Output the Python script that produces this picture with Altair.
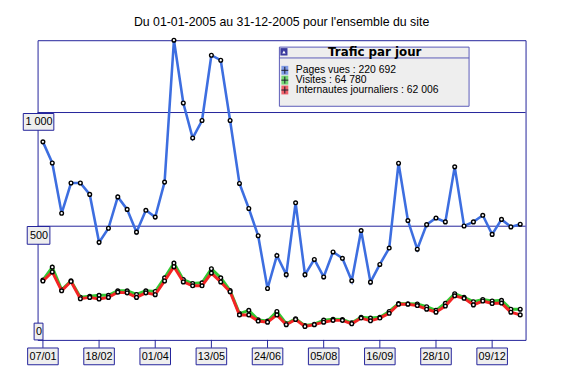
import altair as alt
import pandas as pd

TITLE = "Du 01-01-2005 au 31-12-2005 pour l'ensemble du site"
LEGEND_TITLE = "Trafic par jour"

weeks = pd.date_range("2005-01-07", periods=52, freq="7D").strftime("%Y-%m-%d").tolist()

pages_vues = [871, 778, 557, 690, 690, 640, 429, 491, 629, 574,
              474, 570, 540, 694, 1318, 1042, 888, 965, 1252, 1230,
              965, 688, 578, 458, 226, 371, 287, 603, 287, 354,
              277, 387, 359, 260, 481, 254, 332, 404, 777, 525,
              399, 507, 536, 519, 761, 501, 519, 548, 464, 530,
              497, 509]
visites = [263, 320, 220, 260, 188, 192, 196, 196, 216, 216,
           200, 216, 213, 273, 338, 265, 248, 251, 313, 273,
           217, 116, 130, 88, 83, 125, 71, 93, 63, 69,
           87, 91, 90, 75, 100, 96, 100, 125, 160, 159,
           158, 146, 130, 161, 203, 187, 168, 178, 171, 174,
           135, 135]
internautes = [259, 299, 216, 257, 181, 187, 180, 187, 210, 207,
               187, 207, 199, 259, 322, 255, 238, 238, 294, 255,
               212, 110, 110, 83, 78, 110, 67, 90, 59, 67,
               78, 86, 86, 71, 96, 84, 96, 117, 157, 157,
               151, 135, 122, 149, 194, 183, 154, 171, 160, 162,
               122, 110]

tick_dates = ["2005-01-07", "2005-02-18", "2005-04-01", "2005-05-13", "2005-06-24",
              "2005-08-05", "2005-09-16", "2005-10-28", "2005-12-09"]
tick_labels = ["07/01", "18/02", "01/04", "13/05", "24/06", "05/08", "16/09", "28/10", "09/12"]
y_values = [0, 500, 1000]
y_labels = ["0", "500", "1 000"]
legend_labels = ["Pages vues : 220 692", "Visites : 64 780", "Internautes journaliers : 62 006"]

NAVY = "#22229a"
LINE_COLORS = ["#3d6ee0", "#33c833", "#f42424"]
LINE_WIDTHS = [2.6, 3.0, 3.0]
SWATCH_COLORS = ["#7f9be6", "#74d674", "#f0606a"]
FONT = "Liberation Sans"
W, H = 495, 304

xscale = alt.Scale(type="utc", domain=[alt.DateTime(year=2005, month=1, date=3, utc=True),
                                       alt.DateTime(year=2006, month=1, date=3, utc=True)])
yscale = alt.Scale(domain=[0, 1318], nice=False, zero=True)


def X():
    return alt.X("date:T", scale=xscale, axis=None)


def Y():
    return alt.Y("v:Q", scale=yscale, axis=None)


def box_path(w, h):
    r = h / w
    return f"M-1,-{r:.4f}H1V{r:.4f}H-1Z"


one = pd.DataFrame({"k": [0]})
layers = []

# gridlines
grid_df = pd.DataFrame({"v": [500, 1000]})
layers.append(alt.Chart(grid_df).mark_rule(color=NAVY, strokeWidth=1).encode(
    y=Y(), x=alt.value(0), x2=alt.value(W)))

# series
for vals, col, lw in zip([pages_vues, visites, internautes], LINE_COLORS, LINE_WIDTHS):
    df = pd.DataFrame({"date": weeks, "v": vals})
    layers.append(alt.Chart(df).mark_line(color=col, strokeWidth=lw).encode(x=X(), y=Y()))
    layers.append(alt.Chart(df).mark_point(shape="circle", filled=True, fill="white", stroke="black",
                                           strokeWidth=1.4, size=14, opacity=1).encode(x=X(), y=Y()))

# x ticks and boxed labels
tick_df = pd.DataFrame({"date": tick_dates, "label": tick_labels})
layers.append(alt.Chart(tick_df).mark_rule(color=NAVY, strokeWidth=1).encode(
    x=X(), y=alt.value(H), y2=alt.value(H + 8)))
layers.append(alt.Chart(tick_df).mark_point(shape=box_path(31, 17), size=31 * 31, filled=True,
                                            fill="#eeeeee", stroke=NAVY, strokeWidth=1, opacity=1).encode(
    x=X(), y=alt.value(H + 16.7)))
layers.append(alt.Chart(tick_df).mark_text(font=FONT, fontSize=11, color="black", baseline="middle").encode(
    x=X(), y=alt.value(H + 17), text="label:N"))

# y boxed labels
ybox = {"0": (9, 17, -8.5), "500": (23, 18, 9.3), "1 000": (31, 17, 9.5)}
for v, lab in zip(y_values, y_labels):
    w, h, off = ybox[lab]
    df = pd.DataFrame({"v": [v], "label": [lab]})
    layers.append(alt.Chart(df).mark_point(shape=box_path(w, h), size=w * w, filled=True, fill="#eeeeee",
                                           stroke=NAVY, strokeWidth=1, opacity=1, yOffset=off).encode(
        x=alt.value(1), y=Y()))
    layers.append(alt.Chart(df).mark_text(font=FONT, fontSize=11, color="black", baseline="middle",
                                          dy=off + 0.5).encode(x=alt.value(1.5), y=Y(), text="label:N"))

# title
layers.append(alt.Chart(one).mark_text(font=FONT, fontSize=12.5, color="black", baseline="middle").encode(
    x=alt.value(W / 2), y=alt.value(-18.5), text=alt.value(TITLE)))

# legend
LX0, LX1, LY0, LY1 = 245.3, 437.7, 7, 67
layers.append(alt.Chart(one).mark_rect(fill="#eeeeee", stroke="#5a5ab8", strokeWidth=1).encode(
    x=alt.value(LX0), x2=alt.value(LX1), y=alt.value(LY0), y2=alt.value(LY1)))
layers.append(alt.Chart(one).mark_rule(color="#5a5ab8", strokeWidth=1).encode(
    x=alt.value(LX0), x2=alt.value(LX1), y=alt.value(18)))
layers.append(alt.Chart(one).mark_rect(fill="#3a3a9e").encode(
    x=alt.value(246.3), x2=alt.value(253.5), y=alt.value(8), y2=alt.value(15.5)))
layers.append(alt.Chart(one).mark_point(shape="triangle-up", filled=True, fill="white", size=12, opacity=1).encode(
    x=alt.value(249.9), y=alt.value(12)))
layers.append(alt.Chart(one).mark_text(font="DejaVu Sans", fontWeight="bold", fontSize=12, color="black",
                                       baseline="middle").encode(
    x=alt.value(342), y=alt.value(12.5), text=alt.value(LEGEND_TITLE)))
rows_y = [30.5, 40.5, 50.5]
for lab, col, ry in zip(legend_labels, SWATCH_COLORS, rows_y):
    layers.append(alt.Chart(one).mark_rect(fill=col).encode(
        x=alt.value(247.3), x2=alt.value(254.3), y=alt.value(ry - 4.5), y2=alt.value(ry + 4.5)))
    layers.append(alt.Chart(one).mark_point(shape="M-1,0H1M0,-1V1", size=49, filled=False, stroke="#1a1a2a",
                                            strokeWidth=1, opacity=1).encode(
        x=alt.value(250.8), y=alt.value(ry)))
    layers.append(alt.Chart(one).mark_text(font=FONT, fontSize=10.5, color="black", align="left",
                                           baseline="middle").encode(
        x=alt.value(262), y=alt.value(ry), text=alt.value(lab)))

chart = alt.layer(*layers).properties(
    width=W, height=H,
    autosize=alt.AutoSizeParams(type="none"),
    padding={"left": 30, "top": 30, "right": 40, "bottom": 39},
    background="white",
).configure_view(stroke=NAVY, strokeWidth=1)

chart.save("out.html", embed_options={"renderer": "svg", "actions": False})
